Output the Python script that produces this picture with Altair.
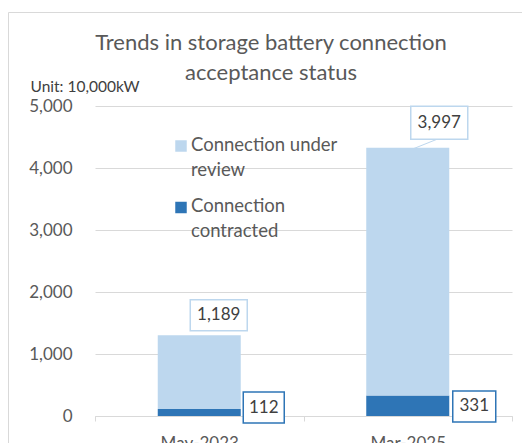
import altair as alt
import pandas as pd

categories = ["May-2023", "Mar-2025"]
under_review = [1189, 3997]
contracted = [112, 331]
series = ["Connection under review", "Connection contracted"]
legend_lines = [["Connection under", "review"], ["Connection", "contracted"]]
series_colors = ["#BDD7EE", "#2E75B6"]
y_ticks = [0, 1000, 2000, 3000, 4000, 5000]
title_lines = ["Trends in storage battery connection", "acceptance status"]
unit_text = "Unit: 10,000kW"

records = []
for c, r, k in zip(categories, under_review, contracted):
    records.append({"category": c, "series": series[1], "value": k, "stack_order": 0})
    records.append({"category": c, "series": series[0], "value": r, "stack_order": 1})
df = pd.DataFrame(records)

legend_df = pd.DataFrame({"series": series, "text": legend_lines})

FONT = "Lato"
GREY = "#595959"
DARK = "#404040"
GRID = "#D9D9D9"

y_scale = alt.Scale(domain=[0, 5000], nice=False)
x_scale = alt.Scale(paddingInner=0, paddingOuter=0)
color_scale = alt.Scale(domain=series, range=series_colors)

x_axis = alt.Axis(title=None, labelFontSize=17, labelColor=GREY, labelFont=FONT,
                  labelAngle=0, labelPadding=14, domainColor=GRID, tickColor=GRID,
                  tickSize=5, tickBand="extent", grid=False)
y_axis = alt.Axis(values=y_ticks, format=",.0f", title=unit_text, titleAngle=0,
                  titleAlign="left", titleBaseline="alphabetic", titleX=-65, titleY=-15,
                  titleFontSize=15.5, titleFontWeight="normal", titleColor=DARK, titleFont=FONT,
                  labelFontSize=17, labelColor=GREY, labelFont=FONT, labelPadding=23,
                  domain=False, ticks=False, gridColor=GRID)

base = alt.Chart(df)

bars = base.mark_bar(size=83).encode(
    x=alt.X("category:N", sort=categories, scale=x_scale, axis=x_axis),
    y=alt.Y("value:Q", stack="zero", scale=y_scale, axis=y_axis),
    color=alt.Color("series:N", scale=color_scale, legend=None),
    order=alt.Order("stack_order:Q"),
)


def label_layers(cat, ser, anchor, dx, dy, w, h, stroke, leader=None):
    src = (base.transform_joinaggregate(total="sum(value)", groupby=["category"])
           .transform_filter((alt.datum.category == cat) & (alt.datum.series == ser)))
    enc = dict(x=alt.X("category:N", sort=categories, scale=x_scale, axis=x_axis),
               y=alt.Y(f"{anchor}:Q", scale=y_scale, axis=y_axis))
    layers = []
    if leader is not None:
        lx, ly, size, path = leader
        layers.append(src.mark_point(shape=path, size=size, filled=False, stroke=stroke,
                                     strokeWidth=1, opacity=1, xOffset=lx, yOffset=ly).encode(**enc))
    ratio = h / w
    box_path = f"M-1,-{ratio:.4f}H1V{ratio:.4f}H-1Z"
    layers.append(src.mark_point(shape=box_path, size=w * w, filled=True, fill="white",
                                 stroke=stroke, strokeWidth=1.5, opacity=1,
                                 xOffset=dx, yOffset=dy).encode(**enc))
    layers.append(src.mark_text(dx=dx, dy=dy, fontSize=17, font=FONT, color=DARK,
                                align="center", baseline="middle").encode(
        text=alt.Text("value:Q", format=","), **enc))
    return layers


labels = []
labels += label_layers(categories[0], series[0], "total", 19.5, -20, 57, 31, series_colors[0])
labels += label_layers(categories[1], series[0], "total", 31.5, -25, 57, 33, series_colors[0],
                       leader=(17.5, -3.7, 625, "M-1,0.4L1,-0.4"))
labels += label_layers(categories[0], series[1], "value", 64.5, -1.5, 41, 31, series_colors[1])
labels += label_layers(categories[1], series[1], "value", 66.5, 11, 43, 31, series_colors[1])

# legend drawn from the series list (one entry per series)
legend_layers = []
for s, ypos in zip(series, [40, 101.5]):
    src = alt.Chart(legend_df).transform_filter(alt.datum.series == s)
    legend_layers.append(src.mark_square(size=132, opacity=1).encode(
        x=alt.value(86), y=alt.value(ypos),
        color=alt.Color("series:N", scale=color_scale, legend=None)))
    legend_layers.append(src.mark_text(align="left", baseline="alphabetic", dy=4.5, fontSize=18.5,
                                       font=FONT, color=GREY, lineHeight=25).encode(
        x=alt.value(96), y=alt.value(ypos), text="text"))

one = alt.Chart(pd.DataFrame({"f": [0]}))
title_mark = one.mark_text(align="center", baseline="alphabetic", fontSize=22, font=FONT,
                           color=GREY, lineHeight=30).encode(
    x=alt.value(176), y=alt.value(-56), text=alt.value(title_lines))
frame = one.mark_rect(fillOpacity=0, stroke=GRID, strokeWidth=1).encode(
    x=alt.value(-86.5), x2=alt.value(900), y=alt.value(-93.5), y2=alt.value(900))

chart = alt.layer(frame, bars, *labels, *legend_layers, title_mark).properties(
    width=417, height=310,
    background="white",
    padding={"left": 87, "top": 98, "right": 10, "bottom": 40},
    autosize=alt.AutoSizeParams(type="none"),
).configure_view(stroke=None)

chart.save("out.html", embed_options={"renderer": "svg", "actions": False})
